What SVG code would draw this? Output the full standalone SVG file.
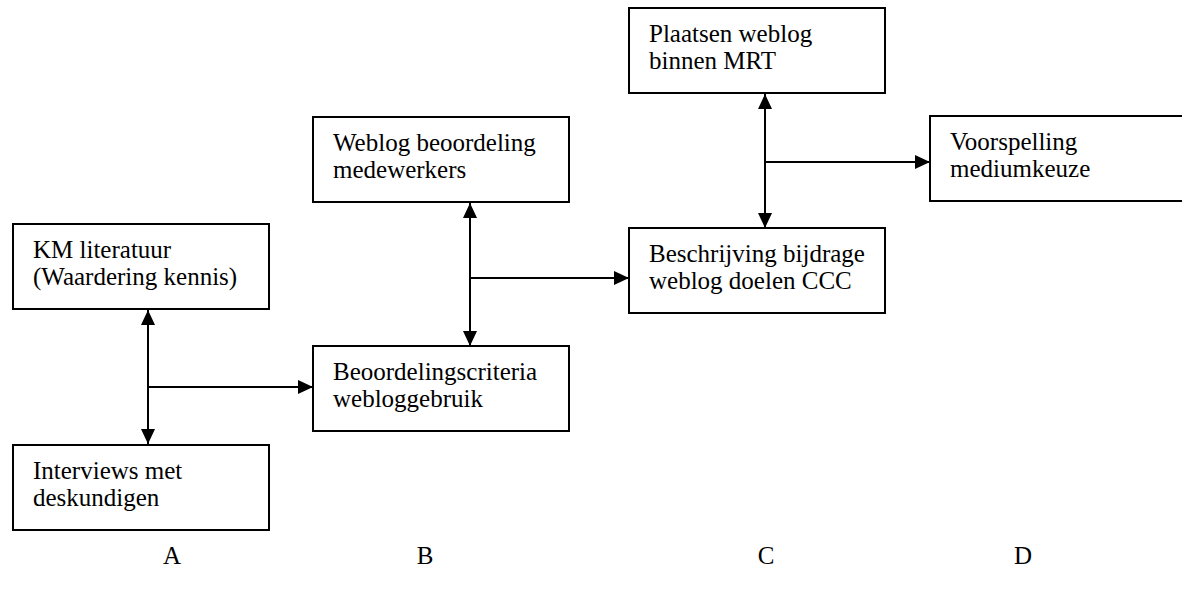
<svg xmlns="http://www.w3.org/2000/svg" width="1182" height="594" viewBox="0 0 1182 594">
<style>
.box{fill:#fff;stroke:#000;stroke-width:2}
.t{font-family:"Liberation Serif","Times New Roman",serif;font-size:25px;fill:#000}
.lbl{font-family:"Liberation Serif","Times New Roman",serif;font-size:25px;fill:#000;text-anchor:middle}
.c{stroke:#000;stroke-width:2;fill:none}
</style>
<defs>
<marker id="ah" markerUnits="userSpaceOnUse" markerWidth="16" markerHeight="14" refX="15" refY="7" orient="auto-start-reverse" viewBox="0 0 16 14">
<path d="M0,0 L15,7 L0,14 Z" fill="#000"/>
</marker>
</defs>
<rect width="1182" height="594" fill="#fff"/>
<g id="connectors">
<line class="c" x1="148" y1="310" x2="148" y2="444" marker-start="url(#ah)" marker-end="url(#ah)"/>
<line class="c" x1="148" y1="387" x2="313" y2="387" marker-end="url(#ah)"/>
<line class="c" x1="470" y1="203" x2="470" y2="346" marker-start="url(#ah)" marker-end="url(#ah)"/>
<line class="c" x1="470" y1="278" x2="629" y2="278" marker-end="url(#ah)"/>
<line class="c" x1="765" y1="94" x2="765" y2="228" marker-start="url(#ah)" marker-end="url(#ah)"/>
<line class="c" x1="765" y1="162" x2="930" y2="162" marker-end="url(#ah)"/>
</g>
<g id="km">
<rect class="box" x="13" y="224" width="256" height="85"/>
<text class="t" x="33" y="258">KM literatuur</text>
<text class="t" x="33" y="285">(Waardering kennis)</text>
</g>
<g id="interviews">
<rect class="box" x="13" y="445" width="256" height="85"/>
<text class="t" x="33" y="479">Interviews met</text>
<text class="t" x="33" y="506">deskundigen</text>
</g>
<g id="criteria">
<rect class="box" x="313" y="346" width="256" height="85"/>
<text class="t" x="333" y="380">Beoordelingscriteria</text>
<text class="t" x="333" y="407">webloggebruik</text>
</g>
<g id="medewerkers">
<rect class="box" x="313" y="117" width="256" height="85"/>
<text class="t" x="333" y="151">Weblog beoordeling</text>
<text class="t" x="333" y="178">medewerkers</text>
</g>
<g id="beschrijving">
<rect class="box" x="629" y="228" width="256" height="85"/>
<text class="t" x="649" y="262">Beschrijving bijdrage</text>
<text class="t" x="649" y="289">weblog doelen CCC</text>
</g>
<g id="plaatsen">
<rect class="box" x="629" y="8" width="256" height="85"/>
<text class="t" x="649" y="42">Plaatsen weblog</text>
<text class="t" x="649" y="69">binnen MRT</text>
</g>
<g id="voorspelling">
<rect class="box" x="930" y="116" width="256" height="85"/>
<text class="t" x="950" y="150">Voorspelling</text>
<text class="t" x="950" y="177">mediumkeuze</text>
</g>
<g id="labels">
<text class="lbl" x="172" y="564">A</text>
<text class="lbl" x="425" y="564">B</text>
<text class="lbl" x="766" y="564">C</text>
<text class="lbl" x="1023" y="564">D</text>
</g>
</svg>
